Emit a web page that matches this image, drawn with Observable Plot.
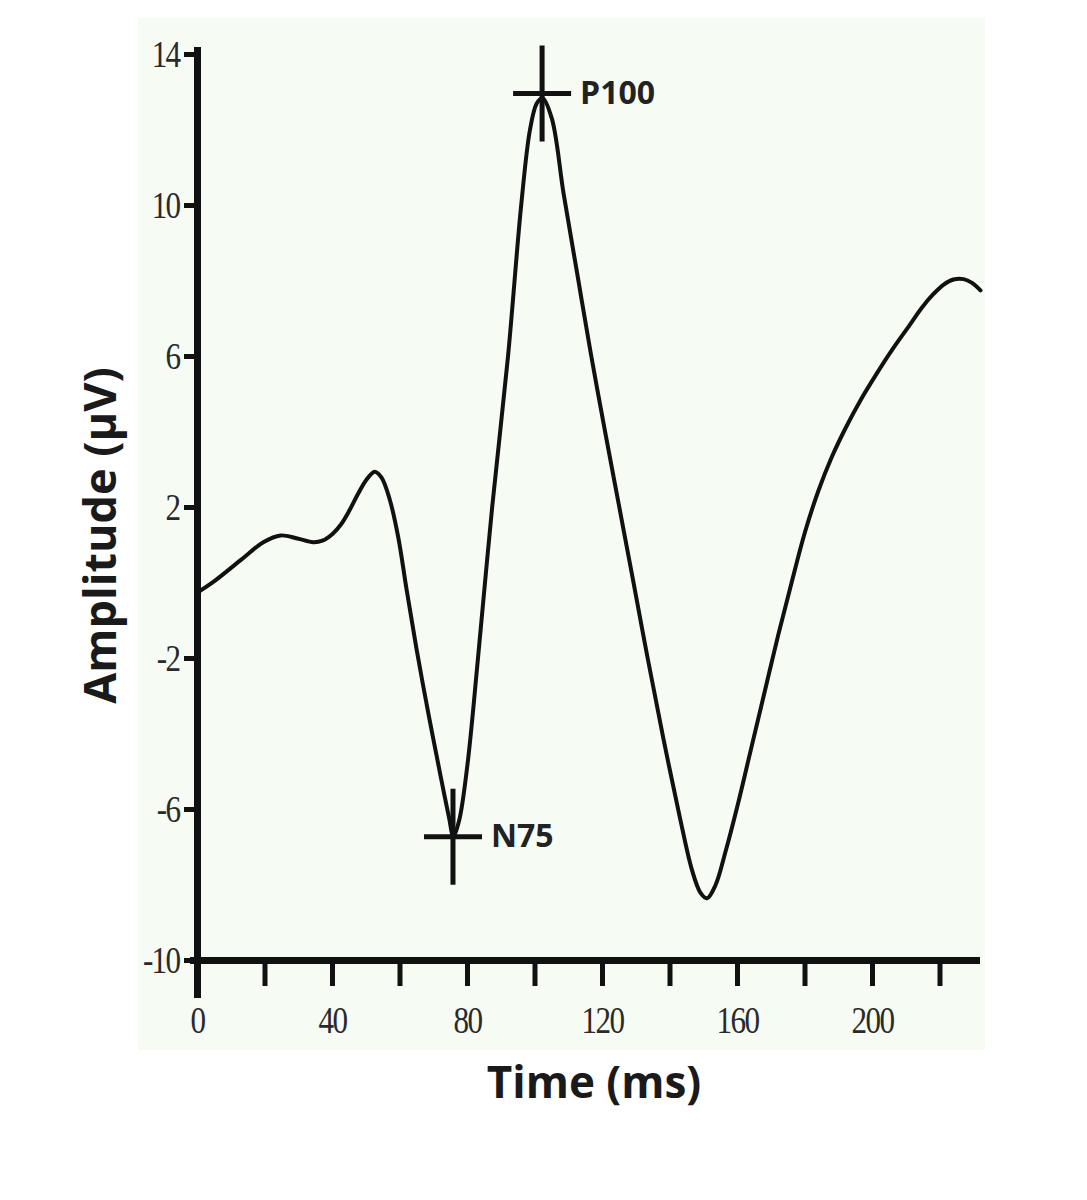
<!DOCTYPE html>
<html><head><meta charset="utf-8">
<script src="https://cdn.jsdelivr.net/npm/d3@7"></script>
<script src="https://cdn.jsdelivr.net/npm/@observablehq/plot@0.6"></script>
<style>
html,body{margin:0;padding:0;background:#fff;}
#wrap{position:relative;width:1087px;height:1200px;overflow:hidden;}
#panel{position:absolute;left:138px;top:18px;width:847px;height:1032px;background:#f6fbf4;}
#chart{position:absolute;left:0;top:0;}
g[aria-label="x-axis tick label"] text, g[aria-label="y-axis tick label"] text{letter-spacing:-2px;}
</style></head><body>
<div id="wrap"><div id="panel"></div><div id="chart"></div></div>
<script>
// Waveform (time in ms, amplitude in µV)
const timeMs = [0, 5, 12.7, 19.5, 24.6, 29.6, 34.3, 37, 40, 42.5, 45, 47.5, 50, 52.5, 54.5, 57, 59.5, 62, 65, 68.5, 72, 74.5, 75.8, 77.5, 80, 83.1, 87.3, 92.0, 95.9, 98.5, 100.5, 102.2, 105, 108.5, 112.5, 116.5, 121, 125, 129, 133.4, 138, 142.9, 146.5, 149, 151, 153.5, 156.5, 160, 164, 168, 172, 176, 180, 184, 188, 192, 196.5, 201.2, 206, 210.9, 214.5, 218, 221, 224, 227, 229.5, 232];
const amplitude = [-0.25, 0.05, 0.6, 1.08, 1.26, 1.18, 1.08, 1.12, 1.3, 1.55, 1.92, 2.35, 2.73, 2.95, 2.8, 2.2, 1.2, -0.2, -1.8, -3.5, -5.1, -6.2, -6.7, -6.3, -4.8, -2.0, 2.0, 6.0, 10.0, 12.0, 12.7, 12.85, 12.3, 10.3, 8.2, 6.1, 3.9, 2.0, 0.1, -2.0, -4.1, -6.2, -7.6, -8.2, -8.35, -8.0, -7.1, -5.9, -4.4, -2.9, -1.4, 0.0, 1.35, 2.45, 3.35, 4.1, 4.85, 5.54, 6.2, 6.82, 7.28, 7.65, 7.9, 8.04, 8.05, 7.95, 7.75];

// Marked peaks
const peakNames = ["N75", "P100"];
const peakTime = [75.7, 102.1];
const peakAmp = [-6.72, 12.97];

// Axes
const xTickValues = [0, 20, 40, 60, 80, 100, 120, 140, 160, 180, 200, 220];
const xLabelValues = [0, 40, 80, 120, 160, 200];
const yTickValues = [14, 10, 6, 2, -2, -6, -10];
const xDomain = [0, 232];
const yDomain = [-10, 14];
const xTitle = "Time (ms)";
const yTitle = "Amplitude (µV)";

const wave = timeMs.map((t, i) => ({t, a: amplitude[i]}));
const peaks = peakNames.map((n, i) => ({n, t: peakTime[i], a: peakAmp[i]}));
const cross = {draw(ctx) { ctx.moveTo(-29, 0); ctx.lineTo(29, 0); ctx.moveTo(0, -48); ctx.lineTo(0, 48); }};

const serif = "'Liberation Serif', 'Times New Roman', serif";
const sans = "'Open Sans', 'Noto Sans', sans-serif";

const chart = Plot.plot({
  width: 1087,
  height: 1200,
  marginLeft: 197,
  marginRight: 107,
  marginTop: 54,
  marginBottom: 240,
  style: {background: "transparent", overflow: "visible"},
  x: {domain: xDomain},
  y: {domain: yDomain},
  marks: [
    Plot.axisX(xTickValues, {tickSize: 26, strokeWidth: 5, stroke: "#111", tickFormat: () => "", label: null}),
    Plot.axisX(xLabelValues, {tickSize: 0, tickPadding: 46, fontSize: 38, fontFamily: serif, fill: "#2a2a2a", tickFormat: d => String(d), label: null}),
    Plot.axisY(yTickValues, {tickSize: 13, tickPadding: 5, strokeWidth: 5, stroke: "#111", fontSize: 38, fontFamily: serif, fill: "#2a2a2a", tickFormat: d => String(d), label: null}),
    Plot.ruleX([0], {stroke: "#111", strokeWidth: 7, insetTop: -7, insetBottom: -38}),
    Plot.ruleY([-10], {stroke: "#111", strokeWidth: 7, insetLeft: -7}),
    Plot.line(wave, {x: "t", y: "a", curve: "catmull-rom", stroke: "#111", strokeWidth: 4}),
    Plot.dot(peaks, {x: "t", y: "a", symbol: cross, fill: "none", stroke: "#111", strokeWidth: 5}),
    Plot.text(peaks, {x: "t", y: "a", text: "n", textAnchor: "start", dx: 38, fontSize: 32, fontWeight: "bold", fontFamily: sans, fill: "#222"}),
    Plot.text([xTitle], {frameAnchor: "bottom", textAnchor: "middle", lineAnchor: "middle", text: d => d, dx: 5, dy: 123, fontSize: 44, fontWeight: "bold", fontFamily: sans, fill: "#1a1a1a"}),
    Plot.text([yTitle], {frameAnchor: "left", textAnchor: "middle", lineAnchor: "middle", text: d => d, rotate: -90, dx: -96, dy: 28, fontSize: 45, fontWeight: "bold", fontFamily: sans, fill: "#1a1a1a"})
  ]
});
// condense the tick-label digits horizontally, as in the original figure
d3.select(chart).selectAll('g[aria-label="x-axis tick label"] text, g[aria-label="y-axis tick label"] text')
  .attr("transform", function() { return (this.getAttribute("transform") || "") + " scale(0.82,1)"; });
document.getElementById("chart").appendChild(chart);
</script>
</body></html>
